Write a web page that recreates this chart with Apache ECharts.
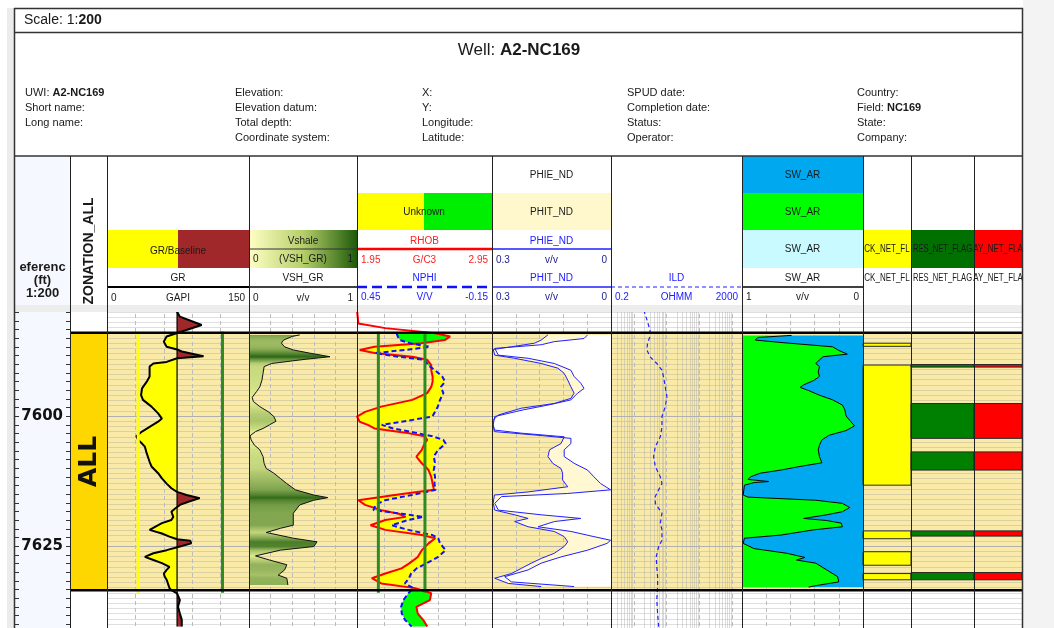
<!DOCTYPE html>
<html>
<head>
<meta charset="utf-8">
<title>Well A2-NC169</title>
<script src="https://cdn.jsdelivr.net/npm/echarts@6.0.0/dist/echarts.min.js"></script>
<style>
  html, body { margin: 0; padding: 0; background: #fff; }
  #log { width: 1054px; height: 628px; }
</style>
</head>
<body>
<div id="log"></div>
<script>
// ---- zone ----
const ZONE_NAME = 'ALL';
const ZONE_TOP = 7584.0;
const ZONE_BASE = 7633.5;

// ---- GR (GAPI) with baseline and cutoffs ----
const GR_DEPTH = [7579.6, 7580.9, 7582.5, 7584.0, 7584.7, 7585.7, 7586.7, 7587.2, 7587.6, 7588.5,
  7588.9, 7589.2, 7589.6, 7589.9, 7590.5, 7591.2, 7592.4, 7593.4, 7594.7, 7596.0,
  7596.9, 7598.2, 7599.5, 7600.5, 7601.1, 7602.1, 7603.0, 7603.9, 7604.6, 7605.3,
  7605.9, 7607.2, 7608.8, 7609.7, 7611.0, 7612.0, 7613.0, 7613.9, 7614.6, 7615.2,
  7615.8, 7616.5, 7617.1, 7617.8, 7618.4, 7619.4, 7620.0, 7620.6, 7621.9, 7622.6,
  7623.2, 7623.7, 7624.0, 7624.5, 7625.1, 7625.8, 7626.4, 7627.1, 7627.7, 7628.3,
  7629.0, 7629.6, 7630.3, 7630.9, 7631.5, 7633.1, 7633.5, 7634.1, 7635.4, 7636.7,
  7638.0, 7639.2, 7640.5];
const GR = [73, 77, 100, 75, 63, 60, 63, 74, 79, 102,
  74, 72, 63, 49, 45, 45, 45, 42, 37, 36,
  38, 47, 54, 58, 54, 45, 37, 31, 33, 37,
  40, 42, 45, 47, 54, 58, 63, 68, 74, 84,
  98, 86, 77, 72, 68, 70, 68, 58, 45, 58,
  66, 74, 88, 89, 77, 63, 49, 40, 49, 58,
  66, 63, 60, 61, 63, 66, 68, 74, 77, 75,
  77, 79, 79];
const GR_BASELINE = 74;
const GR_CUTOFFS = [33, 122];

// ---- VSH_GR (v/v) ----
const VSH_DEPTH = [7584.4, 7584.7, 7585.4, 7586.0, 7586.7, 7587.3, 7587.9, 7588.6, 7589.1, 7589.9,
  7590.5, 7591.8, 7593.1, 7594.4, 7595.3, 7596.4, 7597.2, 7598.2, 7599.2, 7600.1,
  7601.0, 7601.7, 7602.4, 7603.0, 7603.8, 7604.6, 7605.6, 7606.5, 7607.8, 7609.1,
  7610.1, 7611.0, 7612.0, 7613.0, 7614.2, 7615.2, 7615.7, 7616.2, 7617.1, 7618.7,
  7621.0, 7621.6, 7622.4, 7623.5, 7624.2, 7625.1, 7625.8, 7626.9, 7627.7, 7628.6,
  7629.6, 7630.6, 7631.2, 7632.5];
const VSH_GR = [0.47, 0.40, 0.32, 0.30, 0.33, 0.41, 0.56, 0.75, 0.52, 0.21,
  0.14, 0.13, 0.12, 0.10, 0.07, 0.03, 0.04, 0.10, 0.18, 0.23,
  0.25, 0.19, 0.13, 0.06, 0.01, 0.02, 0.05, 0.10, 0.13, 0.14,
  0.16, 0.23, 0.29, 0.35, 0.43, 0.60, 0.73, 0.60, 0.47, 0.41,
  0.41, 0.29, 0.16, 0.41, 0.63, 0.60, 0.29, 0.06, 0.19, 0.35,
  0.33, 0.27, 0.35, 0.36];

// ---- RHOB (G/C3) and NPHI (V/V) ----
const DN_DEPTH = [7579.6, 7582.2, 7583.1, 7584.1, 7584.7, 7585.4, 7586.0, 7586.7, 7587.3, 7587.9,
  7588.6, 7589.2, 7590.2, 7591.2, 7592.4, 7593.4, 7594.4, 7595.6, 7596.9, 7598.2,
  7599.2, 7600.1, 7601.1, 7601.7, 7602.4, 7603.2, 7603.9, 7604.6, 7605.3, 7606.5,
  7607.8, 7609.1, 7610.4, 7611.7, 7613.0, 7614.2, 7615.2, 7616.2, 7617.1, 7618.1,
  7618.8, 7619.4, 7620.0, 7621.0, 7621.9, 7622.9, 7623.5, 7624.5, 7625.8, 7627.1,
  7628.3, 7629.3, 7630.3, 7631.2, 7632.2, 7633.1, 7634.1, 7635.4, 7636.7, 7638.0,
  7639.2, 7640.5];
const RHOB = [1.95, 1.96, 2.16, 2.53, 2.64, 2.60, 2.43, 2.08, 1.97, 2.08,
  2.36, 2.47, 2.50, 2.50, 2.51, 2.51, 2.50, 2.47, 2.36, 2.13,
  2.01, 1.95, 1.97, 2.03, 2.08, 2.31, 2.45, 2.47, 2.45, 2.43,
  2.39, 2.43, 2.48, 2.50, 2.51, 2.52, 2.23, 1.96, 2.01, 2.13,
  2.26, 2.31, 2.16, 2.05, 2.16, 2.43, 2.53, 2.48, 2.43, 2.40,
  2.34, 2.28, 2.16, 2.06, 2.13, 2.38, 2.50, 2.49, 2.39, 2.40,
  2.44, 2.47];
const NPHI = [null, null, null, 0.274, 0.269, 0.259, 0.214, 0.126, 0.237, 0.370,
  0.266, 0.148, 0.136, 0.103, 0.071, 0.059, 0.077, 0.066, 0.081, 0.091,
  0.103, 0.115, 0.251, 0.340, 0.289, 0.192, 0.115, 0.066, 0.056, 0.089,
  0.109, 0.103, 0.109, 0.103, 0.106, 0.100, 0.207, 0.326, 0.367, 0.377,
  0.251, 0.155, 0.222, 0.296, 0.222, 0.115, 0.089, 0.081, 0.056, 0.089,
  0.140, 0.185, 0.210, 0.219, 0.237, 0.200, 0.222, 0.244, 0.254, 0.251,
  0.237, 0.207];
const DN_CUTOFFS = [0.355, 0.148]; // NPHI units

// ---- PHIT_ND / PHIE_ND (v/v) ----
const PHIT_DEPTH = [7584.4, 7585.4, 7586.0, 7586.7, 7587.2, 7588.3, 7588.9, 7589.9, 7590.8, 7591.8,
  7593.1, 7594.4, 7595.6, 7596.6, 7597.6, 7598.5, 7599.8, 7600.8, 7601.7, 7602.7,
  7603.3, 7604.0, 7605.3, 7606.5, 7607.8, 7609.1, 7610.1, 7611.0, 7612.3, 7613.6,
  7614.6, 7615.2, 7616.8, 7618.1, 7619.0, 7619.7, 7620.3, 7621.3, 7622.2, 7623.2,
  7624.2, 7625.1, 7626.4, 7627.4, 7628.3, 7629.3, 7630.3, 7631.2, 7632.2, 7632.8];
const PHIT_ND = [0.159, 0.176, 0.193, 0.251, 0.297, 0.293, 0.243, 0.176, 0.134, 0.118,
  0.109, 0.101, 0.093, 0.101, 0.143, 0.226, 0.284, 0.297, 0.297, 0.294,
  0.226, 0.118, 0.126, 0.155, 0.159, 0.147, 0.126, 0.122, 0.122, 0.109,
  0.209, 0.294, 0.297, 0.293, 0.243, 0.209, 0.243, 0.209, 0.143, 0.118,
  0.109, 0.118, 0.143, 0.176, 0.201, 0.226, 0.251, 0.293, 0.259, 0.176];
const PHIE_DEPTH = [7584.4, 7585.1, 7585.7, 7586.3, 7587.0, 7588.3, 7588.9, 7589.9, 7591.2, 7592.4,
  7593.7, 7594.7, 7595.6, 7596.9, 7597.9, 7598.8, 7600.1, 7601.7, 7603.0, 7603.7,
  7604.3, 7605.3, 7606.5, 7607.8, 7609.1, 7610.4, 7611.7, 7613.0, 7614.2, 7614.9,
  7615.5, 7616.8, 7618.1, 7619.0, 7619.7, 7620.3, 7621.3, 7622.2, 7623.2, 7623.9,
  7624.5, 7625.8, 7627.1, 7628.3, 7629.6, 7630.9, 7631.9, 7632.8];
const PHIE_ND = [0.059, 0.068, 0.143, 0.176, 0.293, 0.284, 0.209, 0.143, 0.101, 0.093,
  0.076, 0.068, 0.084, 0.101, 0.159, 0.220, 0.293, 0.297, 0.294, 0.184,
  0.101, 0.101, 0.118, 0.118, 0.093, 0.059, 0.043, 0.026, 0.001, 0.109,
  0.276, 0.293, 0.284, 0.176, 0.076, 0.143, 0.184, 0.101, 0.043, 0.001,
  0.010, 0.059, 0.126, 0.176, 0.209, 0.268, 0.251, 0.093];

// ---- ILD (OHMM) ----
const ILD_DEPTH = [7579.6, 7581.5, 7583.5, 7584.7, 7586.0, 7587.3, 7588.6, 7589.9, 7591.2, 7592.4,
  7594.4, 7596.3, 7598.2, 7600.1, 7602.1, 7604.0, 7605.9, 7607.8, 7609.7, 7611.7,
  7613.0, 7614.2, 7615.5, 7616.8, 7618.7, 7620.6, 7621.9, 7623.9, 7625.1, 7627.1,
  7629.0, 7630.9, 7632.8, 7635.4, 7638.0, 7640.5];
const ILD = [2.0, 2.5, 3.1, 3.1, 2.6, 2.5, 3.1, 5.0, 7.2, 8.0,
  9.1, 10.2, 9.1, 7.2, 7.2, 6.4, 4.5, 4.0, 4.5, 6.4,
  7.2, 5.7, 4.5, 4.5, 7.2, 6.4, 7.2, 7.2, 5.7, 4.8,
  5.0, 5.3, 5.3, 5.0, 5.3, 5.7];

// ---- SW_AR (v/v) ----
const SW_DEPTH = [7584.5, 7584.9, 7585.4, 7585.9, 7586.7, 7587.4, 7588.1, 7588.6, 7589.2, 7589.9,
  7590.5, 7591.5, 7592.4, 7593.2, 7594.0, 7594.5, 7595.1, 7596.0, 7596.9, 7597.9,
  7598.8, 7600.0, 7601.1, 7601.9, 7602.8, 7603.7, 7604.6, 7605.6, 7606.5, 7607.8,
  7609.0, 7609.7, 7610.4, 7611.0, 7611.7, 7612.2, 7612.6, 7612.8, 7613.3, 7615.2,
  7615.6, 7616.2, 7616.8, 7617.6, 7618.4, 7619.0, 7619.7, 7620.1, 7620.6, 7621.3,
  7621.9, 7622.9, 7623.5, 7624.5, 7625.5, 7626.4, 7627.2, 7627.7, 7628.3, 7629.6,
  7630.9, 7631.9, 7632.5, 7632.9];
const SW_AR = [0.59, 0.87, 0.89, 0.66, 0.25, 0.20, 0.13, 0.33, 0.36, 0.39,
  0.36, 0.37, 0.36, 0.41, 0.49, 0.52, 0.45, 0.36, 0.25, 0.17,
  0.15, 0.14, 0.10, 0.07, 0.14, 0.28, 0.34, 0.36, 0.37, 0.36,
  0.34, 0.52, 0.68, 0.85, 0.93, 0.95, 0.78, 0.90, 0.98, 0.99,
  0.95, 0.39, 0.17, 0.11, 0.17, 0.30, 0.49, 0.30, 0.18, 0.17,
  0.41, 0.68, 0.98, 0.99, 0.90, 0.63, 0.48, 0.55, 0.39, 0.30,
  0.21, 0.20, 0.36, 0.45];

// ---- net flags [top, base] ----
const ROCK_NET_FLAG = [[7586.0, 7586.6], [7590.2, 7613.3], [7622.1, 7623.6], [7626.1, 7628.7], [7630.3, 7631.5]];
const RES_NET_FLAG = [[7590.1, 7590.6], [7597.6, 7604.3], [7606.9, 7610.4], [7622.1, 7623.1], [7630.1, 7631.5]];
const PAY_NET_FLAG = [[7590.1, 7590.6], [7597.6, 7604.3], [7606.9, 7610.4], [7622.1, 7623.1], [7630.1, 7631.5]];

// ---------------------------------------------------------------------------
const chart = echarts.init(document.getElementById('log'), null, { renderer: 'canvas' });

const F = 'Liberation Sans, Arial, sans-serif';
const TAN = '#FAEAA8';
const PLOT_TOP = 286;   // 7575 ft sits under the header band
const FT_PX = 5.2;
const DEPTH_MIN = 7575;
const DEPTH_MAX = DEPTH_MIN + (628 - PLOT_TOP) / FT_PX;
const VGRID = { show: true, lineStyle: { color: '#bcbcbc', width: 1, type: [4, 3] } };

const grids = [], xAxes = [], yAxes = [], series = [];

function track(left, width, xs, opt) {
  opt = opt || {};
  const gridIndex = grids.length;
  grids.push({ left, width, top: PLOT_TOP, bottom: 0, containLabel: false, outerBoundsMode: 'none',
    show: false, borderWidth: 0 });
  const hl = opt.hlines !== false;
  const y = yAxes.length;
  yAxes.push({ gridIndex, type: 'value', inverse: true, min: DEPTH_MIN, max: DEPTH_MAX, interval: 25,
    axisLine: { show: false }, axisTick: { show: false }, axisLabel: { show: false },
    splitLine: { show: hl, lineStyle: { color: '#b0b0b0', width: 1 } },
    minorTick: { show: false, splitNumber: 25 },
    minorSplitLine: { show: hl, lineStyle: { color: 'rgba(150,150,150,0.3)', width: 1 } } });
  const x = xs.map(cfg => {
    xAxes.push(Object.assign({ gridIndex, type: 'value', min: 0, max: 1,
      axisLine: { show: false }, axisTick: { show: false }, axisLabel: { show: false },
      splitLine: { show: false } }, cfg));
    return xAxes.length - 1;
  });
  return { gridIndex, y, x };
}

// tracks
const depthT = track(15, 55, [{}], { hlines: false });
const zonT = track(70, 37, [{}], { hlines: false });
const grT = track(107, 142, [{ min: 0, max: 150, interval: 30, splitLine: VGRID }]);
const vshT = track(249, 108, [{ min: 0, max: 1, interval: 0.2, splitLine: VGRID }]);
const dnT = track(357, 135, [{ min: 0, max: 5, interval: 1, splitLine: VGRID },
  { min: 1.95, max: 2.95 }, { min: -0.15, max: 0.45, inverse: true }]);
const porT = track(492, 119, [{ min: 0, max: 0.3, interval: 0.06, inverse: true, splitLine: VGRID }]);
const ildT = track(611, 131, [{ type: 'log', logBase: 10, min: 0.2, max: 2000, splitLine: VGRID }]);
const swT = track(742, 121, [{ min: 0, max: 1, interval: 0.2, inverse: true, splitLine: VGRID }]);
const f1T = track(863, 48, [{}]);
const f2T = track(911, 63, [{}]);
const f3T = track(974, 48, [{}]);

// depth labels every 25 ft on the right edge of the depth track
yAxes.push({ gridIndex: depthT.gridIndex, type: 'value', inverse: true, position: 'right',
  min: DEPTH_MIN, max: DEPTH_MAX, interval: 25,
  axisLine: { show: false }, axisTick: { show: false }, splitLine: { show: false },
  axisLabel: { show: true, inside: true, margin: 7, color: '#111', fontWeight: 'bold', fontSize: 15,
    fontFamily: 'DejaVu Sans', showMinLabel: false, showMaxLabel: false,
    formatter: v => (v % 25 === 0 && v > DEPTH_MIN) ? String(v) : '' } });

// ---- helpers for custom-drawn fills ----
function custom(t, xi, z, data, render) {
  series.push({ type: 'custom', xAxisIndex: xi, yAxisIndex: t.y, z, silent: true, animation: false,
    data, renderItem: render });
}
function fill(t, xi, z, build) {
  custom(t, xi, z, [[1, 7600]], (params, api) => ({ type: 'group', children: build(params, api) }));
}
function curve(t, xi, depth, vals, color, width, type, z) {
  series.push({ type: 'line', xAxisIndex: xi, yAxisIndex: t.y, z: z || 3, silent: true, animation: false,
    symbol: 'none', data: depth.map((d, i) => [vals[i], d]).filter(p => p[0] != null),
    lineStyle: { color, width, type: type || 'solid' } });
}
// polygons between two curves, coloured by which one is on the left
function crossFills(ys, xa, xb, colLeft, colRight) {
  const out = [];
  let run = null;
  const close = () => {
    if (run && run.a.length > 1) {
      out.push({ type: 'polygon', shape: { points: run.a.concat(run.b.slice().reverse()) },
        style: { fill: run.s < 0 ? colLeft : colRight } });
    }
    run = null;
  };
  for (let i = 0; i < ys.length; i++) {
    if (xa[i] == null || xb[i] == null) { close(); continue; }
    const s = xa[i] < xb[i] ? -1 : 1;
    if (run && run.s !== s) {
      const j = i - 1, d0 = xa[j] - xb[j], d1 = xa[i] - xb[i], k = d0 / (d0 - d1);
      const p = [xa[j] + (xa[i] - xa[j]) * k, ys[j] + (ys[i] - ys[j]) * k];
      run.a.push(p); run.b.push(p); close();
      run = { s, a: [p], b: [p] };
    }
    if (!run) run = { s, a: [], b: [] };
    run.a.push([xa[i], ys[i]]); run.b.push([xb[i], ys[i]]);
  }
  close();
  return out;
}
// polygon from a curve to a constant edge value
function edgeFill(api, depth, vals, edge, color) {
  const pts = depth.map((d, i) => api.coord([vals[i], d]));
  pts.push(api.coord([edge, depth[depth.length - 1]]), api.coord([edge, depth[0]]));
  return { type: 'polygon', shape: { points: pts }, style: { fill: color } };
}
function vshColor(v) {
  const t = Math.max(0, Math.min(1, v / 0.8));
  const a = [234, 243, 152], b = [32, 94, 12];
  return 'rgb(' + a.map((c, i) => Math.round(c + (b[i] - c) * t)).join(',') + ')';
}

// depth track: pale background and ticks on both edges
fill(depthT, depthT.x[0], -1, (params) => {
  const cs = params.coordSys;
  return [{ type: 'rect', shape: { x: cs.x, y: cs.y, width: cs.width, height: cs.height }, style: { fill: '#F5F9FF' } }];
});
fill(depthT, depthT.x[0], 5, (params, api) => {
  const cs = params.coordSys, out = [];
  for (let k = 0; DEPTH_MIN + k * 25 / 15 <= DEPTH_MAX; k++) {
    const y = Math.round(api.coord([0.5, DEPTH_MIN + k * 25 / 15])[1]) + 0.5;
    out.push({ type: 'line', shape: { x1: cs.x, y1: y, x2: cs.x + 4, y2: y }, style: { stroke: '#333', lineWidth: 1 } });
    out.push({ type: 'line', shape: { x1: cs.x + cs.width - 4, y1: y, x2: cs.x + cs.width, y2: y }, style: { stroke: '#333', lineWidth: 1 } });
  }
  return out;
});

// ---- zone background (under grid lines) and zone boundaries ----
const zoned = [grT, vshT, dnT, porT, ildT, swT, f1T, f2T, f3T];
zoned.forEach(t => custom(t, t.x[0], -1, [[1, ZONE_TOP]], (params, api) => {
  const cs = params.coordSys;
  const y0 = api.coord([1, ZONE_TOP])[1], y1 = api.coord([1, ZONE_BASE])[1];
  return { type: 'rect', shape: { x: cs.x, y: y0, width: cs.width, height: y1 - y0 }, style: { fill: TAN } };
}));

// zonation track
custom(zonT, zonT.x[0], 2, [[0.5, ZONE_TOP, ZONE_BASE]], (params, api) => {
  const cs = params.coordSys;
  const y0 = api.coord([0.5, api.value(1)])[1], y1 = api.coord([0.5, api.value(2)])[1];
  return { type: 'group', children: [
    { type: 'rect', shape: { x: cs.x, y: y0, width: cs.width, height: y1 - y0 }, style: { fill: '#FFD700' } },
    { type: 'text', x: cs.x + cs.width / 2 + 1, y: (y0 + y1) / 2, rotation: Math.PI / 2,
      style: { text: ZONE_NAME, font: 'bold 25px DejaVu Sans', fill: '#111', align: 'center', verticalAlign: 'middle' } }
  ] };
});

// ILD logarithmic minor grid
fill(ildT, ildT.x[0], 1, (params, api) => {
  const cs = params.coordSys, out = [];
  for (let e = -1; e <= 3; e++) {
    for (let m = 2; m <= 9; m++) {
      const v = m * Math.pow(10, e);
      if (v <= 0.2 || v >= 2000) continue;
      const x = Math.round(api.coord([v, 7600])[0]) + 0.5;
      out.push({ type: 'line', shape: { x1: x, y1: cs.y, x2: x, y2: cs.y + cs.height },
        style: { stroke: 'rgba(175,175,175,0.45)', lineWidth: 1 } });
    }
  }
  return out;
});

// GR: yellow left of baseline, brown right of it
fill(grT, grT.x[0], 2, (params, api) => {
  const ys = GR_DEPTH.map(d => api.coord([0, d])[1]);
  const xa = GR.map((v, i) => api.coord([v, GR_DEPTH[i]])[0]);
  const xb = GR_DEPTH.map(d => api.coord([GR_BASELINE, d])[0]);
  return crossFills(ys, xa, xb, '#FFFF00', '#A0282A');
});
curve(grT, grT.x[0], GR_DEPTH, GR_DEPTH.map(() => GR_BASELINE), '#000', 1.2);
curve(grT, grT.x[0], GR_DEPTH, GR, '#000', 2);
curve(grT, grT.x[0], [ZONE_TOP - 0.2, ZONE_BASE + 0.5], [GR_CUTOFFS[0], GR_CUTOFFS[0]], '#FFFF00', 3, 'solid', 4);
curve(grT, grT.x[0], [ZONE_TOP - 0.2, ZONE_BASE + 0.5], [GR_CUTOFFS[1], GR_CUTOFFS[1]], '#2E8B22', 3, 'solid', 4);

// VSH: fill from 0 to curve, coloured by value
fill(vshT, vshT.x[0], 2, (params, api) => {
  const pts = VSH_DEPTH.map((d, i) => api.coord([VSH_GR[i], d]));
  const top = api.coord([0, VSH_DEPTH[0]]), bot = api.coord([0, VSH_DEPTH[VSH_DEPTH.length - 1]]);
  const stops = pts.map((p, i) => ({ offset: Math.max(0, Math.min(1, (p[1] - top[1]) / (bot[1] - top[1]))), color: vshColor(VSH_GR[i]) }));
  return [{ type: 'polygon', shape: { points: pts.concat([bot, top]) },
    style: { fill: new echarts.graphic.LinearGradient(0, top[1], 0, bot[1], stops, true) } }];
});
curve(vshT, vshT.x[0], VSH_DEPTH, VSH_GR, '#111', 1);

// Density / neutron crossover
fill(dnT, dnT.x[1], 2, (params, api) => {
  const ys = DN_DEPTH.map(d => api.coord([2, d])[1]);
  const xa = RHOB.map((v, i) => api.coord([v, DN_DEPTH[i]])[0]);
  const xb = NPHI.map(v => v == null ? null : chart.convertToPixel({ xAxisIndex: dnT.x[2] }, v));
  return crossFills(ys, xa, xb, '#FFFF00', '#00FF00');
});
curve(dnT, dnT.x[1], DN_DEPTH, RHOB, '#FF0000', 2);
curve(dnT, dnT.x[2], DN_DEPTH, NPHI, '#1010FF', 2, [5, 3]);
curve(dnT, dnT.x[2], [ZONE_TOP - 0.2, ZONE_BASE + 0.5], [DN_CUTOFFS[0], DN_CUTOFFS[0]], '#2E8B22', 3, 'solid', 4);
curve(dnT, dnT.x[2], [ZONE_TOP - 0.2, ZONE_BASE + 0.5], [DN_CUTOFFS[1], DN_CUTOFFS[1]], '#2E8B22', 3, 'solid', 4);

// Porosity: PHIT pale fill, PHIE white fill, both to 0
fill(porT, porT.x[0], 2, (params, api) => [
  edgeFill(api, PHIT_DEPTH, PHIT_ND, 0, '#FFF8D2'),
  edgeFill(api, PHIE_DEPTH, PHIE_ND, 0, '#FFFFFF')
]);
curve(porT, porT.x[0], PHIT_DEPTH, PHIT_ND, '#2020FF', 1);
curve(porT, porT.x[0], PHIE_DEPTH, PHIE_ND, '#2020FF', 1);

// Resistivity
curve(ildT, ildT.x[0], ILD_DEPTH, ILD, '#2020FF', 1.2, [4, 3]);

// Water saturation: blue = water, green = hydrocarbon
fill(swT, swT.x[0], 2, (params, api) => [
  edgeFill(api, SW_DEPTH, SW_AR, 0, '#00A8F0'),
  edgeFill(api, SW_DEPTH, SW_AR, 1, '#00FF00')
]);
curve(swT, swT.x[0], SW_DEPTH, SW_AR, '#000', 1);

// net flags
function flags(t, list, color) {
  custom(t, t.x[0], 2, list.map(f => [0.5, f[0], f[1]]), (params, api) => {
    const cs = params.coordSys;
    const y0 = api.coord([0.5, api.value(1)])[1], y1 = api.coord([0.5, api.value(2)])[1];
    return { type: 'rect', shape: { x: cs.x, y: y0, width: cs.width, height: y1 - y0 },
      style: { fill: color, stroke: '#2a2a2a', lineWidth: 1 } };
  });
}
flags(f1T, ROCK_NET_FLAG, '#FFFF00');
flags(f2T, RES_NET_FLAG, '#008000');
flags(f3T, PAY_NET_FLAG, '#FF0000');

// zone boundaries
[zonT].concat(zoned).forEach(t => custom(t, t.x[0], 6, [[1, ZONE_TOP]], (params, api) => {
  const cs = params.coordSys;
  return { type: 'group', children: [ZONE_TOP, ZONE_BASE].map(d => {
    const y = api.coord([1, d])[1];
    return { type: 'line', shape: { x1: cs.x, y1: y, x2: cs.x + cs.width, y2: y }, style: { stroke: '#000', lineWidth: 2.5 } };
  }) };
}));

// ---------------------------------------------------------------------------
// header, frame and track titles
const g = [];
const text = (x, y, s, o) => {
  o = o || {};
  g.push({ type: 'text', z: 120, silent: true, x, y, rotation: o.rot || 0, scaleX: o.sx || 1,
    style: { text: s, fill: o.c || '#1a1a1a', font: (o.b ? 'bold ' : '') + (o.fs || 10) + 'px ' + (o.ff || F),
      align: o.al || 'center', verticalAlign: 'middle', rich: o.rich } });
};
const rect = (x, y, w, h, fillc, z) => g.push({ type: 'rect', z: z || 105, silent: true, shape: { x, y, width: w, height: h }, style: { fill: fillc } });
const line = (x1, y1, x2, y2, c, w, dash) => g.push({ type: 'line', z: 115, silent: true, shape: { x1, y1, x2, y2 }, style: { stroke: c, lineWidth: w || 1, lineDash: dash || null } });

rect(1023, 0, 31, 628, '#F3F3F3', 100);
rect(7, 8, 7, 620, '#ECECEC', 100);
rect(14, 8, 1009, 298, '#FFFFFF', 100);
rect(14, 305, 1009, 7, '#EDEDED', 101);
rect(15, 156, 55, 149, '#F5F9FF', 102);

// scale and well info
const rich = (fs) => ({ n: { font: fs + 'px ' + F, fill: '#1a1a1a' }, b: { font: 'bold ' + fs + 'px ' + F, fill: '#1a1a1a' } });
text(24, 20, '{n|Scale: 1:}{b|200}', { al: 'left', rich: rich(14) });
text(519, 50, '{n|Well: }{b|A2-NC169}', { rich: rich(17) });
const INFO = [
  [25, ['{n|UWI: }{b|A2-NC169}', 'Short name:', 'Long name:', '']],
  [235, ['Elevation:', 'Elevation datum:', 'Total depth:', 'Coordinate system:']],
  [422, ['X:', 'Y:', 'Longitude:', 'Latitude:']],
  [627, ['SPUD date:', 'Completion date:', 'Status:', 'Operator:']],
  [857, ['Country:', '{n|Field: }{b|NC169}', 'State:', 'Company:']]
];
INFO.forEach(([x, rows]) => rows.forEach((s, i) => {
  if (!s) return;
  if (s.charAt(0) === '{') text(x, 93 + i * 15, s, { al: 'left', rich: rich(11) });
  else text(x, 93 + i * 15, s, { al: 'left', fs: 11 });
}));

// depth / zonation headers
text(42.5, 267, 'eferenc', { b: true, fs: 13 });
text(42.5, 280, '(ft)', { b: true, fs: 13 });
text(42.5, 293, '1:200', { b: true, fs: 13 });
text(89, 251, 'ZONATION_ALL', { b: true, fs: 14, rot: Math.PI / 2 });

// scale row helper
const scaleRow = (l, r, y, a, m, b, c) => {
  text(l + 4, y, a, { al: 'left', c });
  text((l + r) / 2, y, m, { c });
  text(r - 4, y, b, { al: 'right', c });
};
// GR
rect(107, 230, 71, 38, '#FFFF00');
rect(178, 230, 71, 38, '#A0282A');
text(178, 251, 'GR/Baseline');
text(178, 278, 'GR');
line(107, 287, 249, 287, '#000', 2);
scaleRow(107, 249, 298, '0', 'GAPI', '150');
// VSH
g.push({ type: 'rect', z: 105, silent: true, shape: { x: 249, y: 230, width: 108, height: 38 },
  style: { fill: new echarts.graphic.LinearGradient(0, 0, 1, 0, [{ offset: 0, color: '#FFFFC4' }, { offset: 0.5, color: '#B6CF6A' }, { offset: 1, color: '#1E5A0A' }]) } });
line(249, 249, 357, 249, '#333', 1);
text(303, 241, 'Vshale');
scaleRow(249, 357, 259, '0', '(VSH_GR)', '1');
text(303, 278, 'VSH_GR');
line(249, 287, 357, 287, '#000', 1.5);
scaleRow(249, 357, 298, '0', 'v/v', '1');
// Density / neutron
rect(357, 193, 67, 37, '#FFFF00');
rect(424, 193, 68, 37, '#00EE00');
text(424, 212, 'Unknown');
text(424.5, 241, 'RHOB', { c: '#FF2020' });
line(357, 249, 492, 249, '#FF0000', 2.5);
scaleRow(357, 492, 260, '1.95', 'G/C3', '2.95', '#FF2020');
text(424.5, 278, 'NPHI', { c: '#2020FF' });
line(357, 287, 492, 287, '#1010FF', 2.5, [10, 5]);
scaleRow(357, 492, 297, '0.45', 'V/V', '-0.15', '#2020FF');
// Porosity
text(551.5, 175, 'PHIE_ND');
rect(492, 193, 119, 37, '#FFF8CC');
text(551.5, 212, 'PHIT_ND');
text(551.5, 241, 'PHIE_ND', { c: '#2020FF' });
line(492, 249, 611, 249, '#2020FF', 1.5);
scaleRow(492, 611, 260, '0.3', 'v/v', '0', '#22228C');
text(551.5, 278, 'PHIT_ND', { c: '#2020FF' });
line(492, 287, 611, 287, '#2020FF', 1.5);
scaleRow(492, 611, 297, '0.3', 'v/v', '0', '#22228C');
// ILD
text(676.5, 278, 'ILD', { c: '#2020FF' });
line(611, 287, 742, 287, '#2020FF', 1.2, [4, 3]);
scaleRow(611, 742, 297, '0.2', 'OHMM', '2000', '#2020FF');
// SW
rect(742, 156, 121, 37, '#00A8F0');
rect(742, 193, 121, 37, '#00FF00');
rect(742, 230, 121, 38, '#C8FAFF');
text(802.5, 175, 'SW_AR');
text(802.5, 212, 'SW_AR');
text(802.5, 249, 'SW_AR');
text(802.5, 278, 'SW_AR');
line(742, 287, 863, 287, '#000', 1.5);
scaleRow(742, 863, 297, '1', 'v/v', '0');
// Flags (names clipped by the narrow tracks)
rect(863, 230, 48, 38, '#FFFF00');
rect(911, 230, 63, 38, '#007000');
rect(974, 230, 48, 38, '#FF0000');
text(887, 249, 'CK_NET_FL', { sx: 0.8 });
text(942.5, 249, 'RES_NET_FLAG', { sx: 0.76 });
text(998, 249, 'AY_NET_FLA', { sx: 0.8 });
text(887, 278, 'CK_NET_FL', { sx: 0.8 });
text(942.5, 278, 'RES_NET_FLAG', { sx: 0.76 });
text(998, 278, 'AY_NET_FLA', { sx: 0.8 });

// frame
line(14, 8.5, 1023, 8.5, '#333', 1.5);
line(14, 32.5, 1023, 32.5, '#333', 1.5);
line(14, 156, 1023, 156, '#333', 1.5);
line(14.5, 8, 14.5, 628, '#333', 1.5);
line(1022.5, 8, 1022.5, 628, '#333', 1.5);
[70, 107, 249, 357, 492, 611, 742, 863, 911, 974].forEach(x => line(x + 0.5, 156, x + 0.5, 628, '#222', 1));

chart.setOption({
  animation: false,
  textStyle: { fontFamily: F },
  grid: grids,
  xAxis: xAxes,
  yAxis: yAxes,
  series,
  graphic: { elements: g }
});
</script>
</body>
</html>
